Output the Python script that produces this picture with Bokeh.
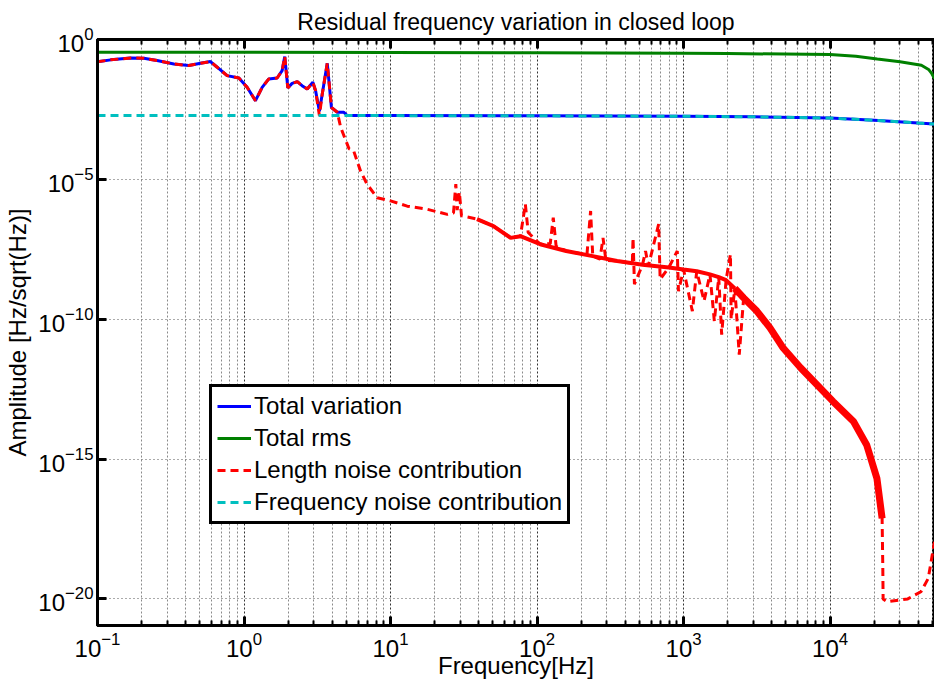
from bokeh.plotting import figure
from bokeh.models import (FixedTicker, LogTickFormatter, LogAxis, Legend, LegendItem,
                          Range1d, CustomJSTickFormatter)
from bokeh.embed import file_html
from bokeh.resources import INLINE

# ---------------- data ----------------
tv_freq = [0.1, 0.123, 0.168, 0.207, 0.255, 0.332, 0.42, 0.505, 0.59, 0.656, 0.767, 0.923,
           1.05, 1.197, 1.33, 1.476, 1.683, 1.82, 1.897, 1.99, 2.13, 2.31, 2.49, 2.70, 2.95,
           3.08, 3.27, 3.42, 3.70, 3.95, 4.33, 4.80, 5.06, 10, 100, 1000, 3000, 1e4, 2e4, 4e4, 5.16e4]
tv_amp = [0.16, 0.187, 0.219, 0.214, 0.177, 0.134, 0.117, 0.141, 0.163, 0.102, 0.051, 0.042,
          0.0195, 0.0065, 0.0195, 0.039, 0.042, 0.077, 0.246, 0.0186, 0.027, 0.031, 0.0224, 0.017, 0.0295,
          0.0148, 0.0027, 0.0113, 0.141, 0.0037, 0.0025, 0.0025, 1.9e-3, 1.9e-3, 1.87e-3, 1.8e-3, 1.72e-3,
          1.55e-3, 1.3e-3, 1.03e-3, 9.5e-4]

rms_freq = [0.1, 1, 10, 100, 1000, 2000, 1e4, 1.5e4, 2.1e4, 3e4, 4.2e4, 4.7e4, 4.95e4, 5.16e4]
rms_amp = [0.35, 0.35, 0.345, 0.335, 0.32, 0.315, 0.29, 0.25, 0.2, 0.16, 0.12, 0.085, 0.06, 0.04]

len_freq = [0.1, 0.123, 0.168, 0.207, 0.255, 0.332, 0.42, 0.505, 0.59, 0.656, 0.767, 0.923,
            1.05, 1.197, 1.33, 1.476, 1.683, 1.82, 1.897, 1.99, 2.13, 2.31, 2.49, 2.70, 2.95,
            3.08, 3.27, 3.42, 3.70, 3.95, 4.33, 4.57, 5.2, 5.6, 6.24, 6.9, 8.1, 10, 13, 17.8,
            24.4, 26.9, 27.9, 28.5, 29.5, 30.5, 38.9, 50.7, 66, 77, 83.2, 87, 105, 123, 129, 135,
            158, 219, 232, 240, 269, 282, 295, 352, 447, 452, 462, 525, 550, 575, 676, 692, 794,
            906, 923, 1000, 1148, 1230, 1380, 1514, 1622, 1738, 1820, 1950, 2089, 2113, 2239,
            2399, 2570, 3162, 3890, 4786, 6310, 10470, 14450, 17780, 20890, 22650, 22900, 23010,
            24550, 33900, 41690, 46770, 51600]
len_amp = [0.16, 0.187, 0.219, 0.214, 0.177, 0.134, 0.117, 0.141, 0.163, 0.102, 0.051, 0.042,
           0.0195, 0.0065, 0.0195, 0.039, 0.042, 0.077, 0.246, 0.0186, 0.027, 0.031, 0.0224, 0.017, 0.0295,
           0.0148, 0.0019, 0.0113, 0.141, 0.0037, 0.0025, 7.2e-4, 1.26e-4, 1.05e-4, 2.0e-5, 6.8e-6, 2.2e-6,
           1.7e-6, 1.1e-6, 8.5e-7, 5.6e-7, 6.3e-7, 6.8e-6, 7.9e-7, 3.5e-6, 5.0e-7, 3.8e-7, 2.1e-7, 8.1e-8,
           9.3e-8, 1.3e-6, 1.26e-7, 4.8e-8, 5.0e-8, 4.3e-7, 4.0e-8, 2.75e-8, 2.0e-8, 7.4e-7, 1.8e-8,
           1.4e-8, 8.1e-8, 1.26e-8, 1.2e-8, 1.0e-8, 8.1e-8, 1.8e-9, 8.9e-9, 2.75e-8, 7.9e-9, 2.5e-7,
           2.7e-9, 7.1e-9, 2.75e-8, 1.0e-9, 6.0e-9, 1.95e-10, 5.2e-9, 4.5e-10, 4.0e-9, 8.5e-11, 3.2e-9,
           2.8e-11, 2.5e-9, 2.1e-8, 1.0e-10, 1.26e-9, 5.4e-12, 5.8e-10, 1.95e-10, 4.9e-11, 9.3e-12,
           1.8e-12, 1.15e-13, 2.2e-14, 3.2e-15, 2.0e-16, 7.6e-18, 1.26e-19, 1.0e-20, 7.9e-21, 1.0e-20,
           1.8e-20, 5.4e-20, 1.1e-18]

# dense noise floor of the length-noise trace (drawn solid where the trace is dense)
floor_freq = [38.9, 50.7, 66, 77, 105, 158, 240, 352, 525, 794, 1000, 1230, 1514, 1738, 1950,
              2239, 2570, 3162, 3890, 4786, 6310, 10470, 14450, 17780, 20890, 22650]
floor_amp = [3.8e-7, 2.1e-7, 8.1e-8, 9.3e-8, 4.8e-8, 2.75e-8, 1.8e-8, 1.2e-8, 8.9e-9, 7.1e-9,
             6.0e-9, 5.2e-9, 4.0e-9, 3.2e-9, 2.5e-9, 1.26e-9, 5.8e-10, 1.95e-10, 4.9e-11, 9.3e-12,
             1.8e-12, 1.15e-13, 2.2e-14, 3.2e-15, 2.0e-16, 7.6e-18]

fn_freq = [0.1, 1, 10, 100, 1000, 3000, 1e4, 2e4, 4e4, 5.16e4]
fn_amp = [1.9e-3, 1.9e-3, 1.9e-3, 1.87e-3, 1.8e-3, 1.72e-3, 1.55e-3, 1.3e-3, 1.03e-3, 9.5e-4]

x_major = [0.1, 1, 10, 100, 1000, 10000]
x_minor = [m * d for d in [0.1, 1, 10, 100, 1000, 10000] for m in range(2, 10)]
y_major = [1e-20, 1e-15, 1e-10, 1e-5, 1]

title_text = "Residual frequency variation in closed loop"
x_label = "Frequency[Hz]"
y_label = "Amplitude [Hz/sqrt(Hz)]"
series_labels = ["Total variation", "Total rms", "Length noise contribution",
                 "Frequency noise contribution"]

FONT = "Liberation Sans"

# ---------------- figure ----------------
p = figure(width=934, height=683, x_axis_type="log", y_axis_type="log",
           x_range=Range1d(0.1, 5.16e4), y_range=Range1d(1.12e-21, 1.0),
           output_backend="svg", toolbar_location=None,
           min_border_left=97, min_border_right=0, min_border_top=39, min_border_bottom=58)
p.background_fill_color = "white"
p.border_fill_color = "white"
p.outline_line_color = "black"
p.outline_line_width = 3

p.title.text = title_text
p.title.align = "center"
p.title.text_font = FONT
p.title.text_font_size = "23px"
p.title.text_font_style = "normal"
p.title.text_color = "black"
p.title.standoff = 10

xt = FixedTicker(ticks=x_major, minor_ticks=x_minor)
yt = FixedTicker(ticks=y_major, minor_ticks=[])

for ax in p.xaxis:
    ax.ticker = xt
    ax.formatter = LogTickFormatter()
    ax.axis_label = x_label
for ax in p.yaxis:
    ax.ticker = yt
    ax.formatter = LogTickFormatter()
    ax.axis_label = y_label

def style_axis(ax, minor_in=5):
    ax.axis_line_width = 3
    ax.axis_line_color = "black"
    ax.major_tick_in = 9
    ax.major_tick_out = 0
    ax.minor_tick_in = minor_in
    ax.minor_tick_out = 0
    ax.major_tick_line_width = 3
    ax.minor_tick_line_width = 2
    ax.major_label_text_font = FONT
    ax.major_label_text_font_size = "24px"
    ax.major_label_text_color = "black"
    ax.axis_label_text_font = FONT
    ax.axis_label_text_font_size = "24px"
    ax.axis_label_text_font_style = "normal"
    ax.axis_label_text_color = "black"

for ax in p.xaxis:
    style_axis(ax)
    ax.major_label_standoff = 6
    ax.axis_label_standoff = -8
for ax in p.yaxis:
    style_axis(ax, minor_in=0)
    ax.major_label_standoff = 4
    ax.axis_label_standoff = 4

top = LogAxis(ticker=xt, formatter=CustomJSTickFormatter(code="return ''"))
style_axis(top)
top.major_label_text_font_size = "1px"
p.add_layout(top, "above")

p.xgrid.ticker = xt
p.xgrid.grid_line_color = "#333333"
p.xgrid.grid_line_dash = "2 2"
p.xgrid.grid_line_width = 1
p.xgrid.minor_grid_line_color = "#8a8a8a"
p.xgrid.minor_grid_line_dash = "2 2"
p.xgrid.minor_grid_line_width = 1
p.ygrid.ticker = yt
p.ygrid.grid_line_color = "#555555"
p.ygrid.grid_line_dash = "1 3"
p.ygrid.grid_line_width = 1

# ---------------- lines ----------------
r_tv = p.line(tv_freq, tv_amp, line_color="#0000FF", line_width=3)
r_rms = p.line(rms_freq, rms_amp, line_color="#008000", line_width=3)
r_len = p.line(len_freq, len_amp, line_color="#FF0000", line_width=3, line_dash="8 5")
p.line(floor_freq[:16], floor_amp[:16], line_color="#FF0000", line_width=4)
p.line(floor_freq[15:], floor_amp[15:], line_color="#FF0000", line_width=7)
r_fn = p.line(fn_freq, fn_amp, line_color="#00BFBF", line_width=3, line_dash="8 5")

legend = Legend(items=[LegendItem(label=series_labels[0], renderers=[r_tv]),
                       LegendItem(label=series_labels[1], renderers=[r_rms]),
                       LegendItem(label=series_labels[2], renderers=[r_len]),
                       LegendItem(label=series_labels[3], renderers=[r_fn])],
                location=(112, 101))
legend.label_text_font = FONT
legend.label_text_font_size = "24px"
legend.label_text_color = "black"
legend.glyph_width = 34
legend.glyph_height = 20
legend.label_height = 20
legend.label_standoff = 3
legend.spacing = 4
legend.padding = 5
legend.margin = 0
legend.border_line_color = "black"
legend.border_line_alpha = 1
legend.border_line_width = 3
legend.background_fill_color = "white"
legend.background_fill_alpha = 1
p.add_layout(legend, "center")

open("out.html", "w").write(file_html(p, INLINE))
